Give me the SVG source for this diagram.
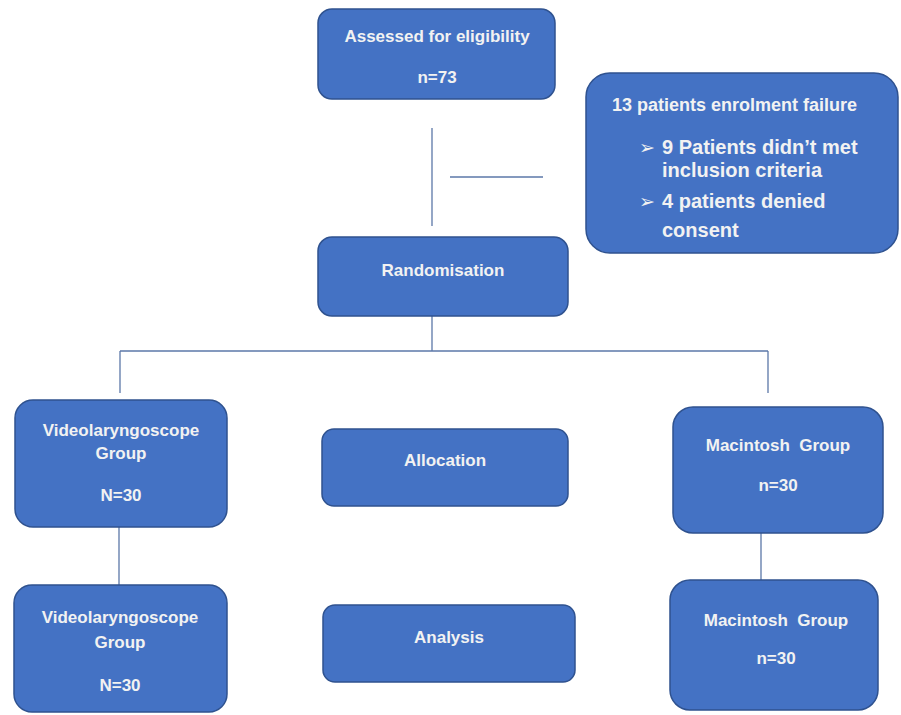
<svg xmlns="http://www.w3.org/2000/svg" width="901" height="715" viewBox="0 0 901 715">
<style>
.box{fill:#4472C4;stroke:#2F528F;stroke-width:1.5}
.t{font-family:"Liberation Sans",Arial,sans-serif;font-weight:bold;font-size:17px;fill:#F2F2F2;text-anchor:middle;dominant-baseline:central}
.tl{font-family:"Liberation Sans",Arial,sans-serif;font-weight:bold;font-size:18px;fill:#F2F2F2;dominant-baseline:central}
.tb{font-family:"Liberation Sans",Arial,sans-serif;font-weight:bold;font-size:20px;fill:#F2F2F2;dominant-baseline:central}
.bu{font-family:"DejaVu Sans",sans-serif;font-size:19px;fill:#F2F2F2;dominant-baseline:central}
.c{stroke:#5B77A8;stroke-width:1.3;fill:none}
</style>
<rect width="901" height="715" fill="#ffffff"/>
<g id="connectors">
<line class="c" x1="432" y1="128" x2="432" y2="226"/>
<line class="c" x1="450" y1="177" x2="543" y2="177"/>
<line class="c" x1="432" y1="316" x2="432" y2="351"/>
<line class="c" x1="120" y1="351" x2="768" y2="351"/>
<line class="c" x1="120" y1="351" x2="120" y2="393"/>
<line class="c" x1="768" y1="351" x2="768" y2="393"/>
<line class="c" x1="119" y1="527" x2="119" y2="585"/>
<line class="c" x1="761" y1="533" x2="761" y2="580"/>
</g>
<g id="assessed">
<rect class="box" x="318" y="9" width="237" height="90" rx="14"/>
<text class="t" x="437" y="36">Assessed for eligibility</text>
<text class="t" x="437" y="77">n=73</text>
</g>
<g id="exclusion">
<rect class="box" x="586" y="73" width="312" height="180" rx="24"/>
<text class="tl" x="612" y="105">13 patients enrolment failure</text>
<text class="bu" x="639" y="147">➢</text>
<text class="tb" x="662" y="147">9 Patients didn’t met</text>
<text class="tb" x="662" y="170">inclusion criteria</text>
<text class="bu" x="639" y="201">➢</text>
<text class="tb" x="662" y="201">4 patients denied</text>
<text class="tb" x="662" y="230">consent</text>
</g>
<g id="randomisation">
<rect class="box" x="318" y="237" width="250" height="79" rx="14"/>
<text class="t" x="443" y="270">Randomisation</text>
</g>
<g id="video1">
<rect class="box" x="15" y="400" width="212" height="127" rx="18"/>
<text class="t" x="121" y="430">Videolaryngoscope</text>
<text class="t" x="121" y="453">Group</text>
<text class="t" x="121" y="495">N=30</text>
</g>
<g id="allocation">
<rect class="box" x="322" y="429" width="246" height="77" rx="12"/>
<text class="t" x="445" y="460">Allocation</text>
</g>
<g id="mac1">
<rect class="box" x="673" y="407" width="210" height="126" rx="20"/>
<text class="t" x="778" y="445" xml:space="preserve">Macintosh  Group</text>
<text class="t" x="778" y="485">n=30</text>
</g>
<g id="video2">
<rect class="box" x="14" y="585" width="213" height="127" rx="18"/>
<text class="t" x="120" y="617">Videolaryngoscope</text>
<text class="t" x="120" y="642">Group</text>
<text class="t" x="120" y="685">N=30</text>
</g>
<g id="analysis">
<rect class="box" x="323" y="605" width="252" height="77" rx="12"/>
<text class="t" x="449" y="637">Analysis</text>
</g>
<g id="mac2">
<rect class="box" x="670" y="580" width="208" height="130" rx="20"/>
<text class="t" x="776" y="620" xml:space="preserve">Macintosh  Group</text>
<text class="t" x="776" y="658">n=30</text>
</g>
</svg>
